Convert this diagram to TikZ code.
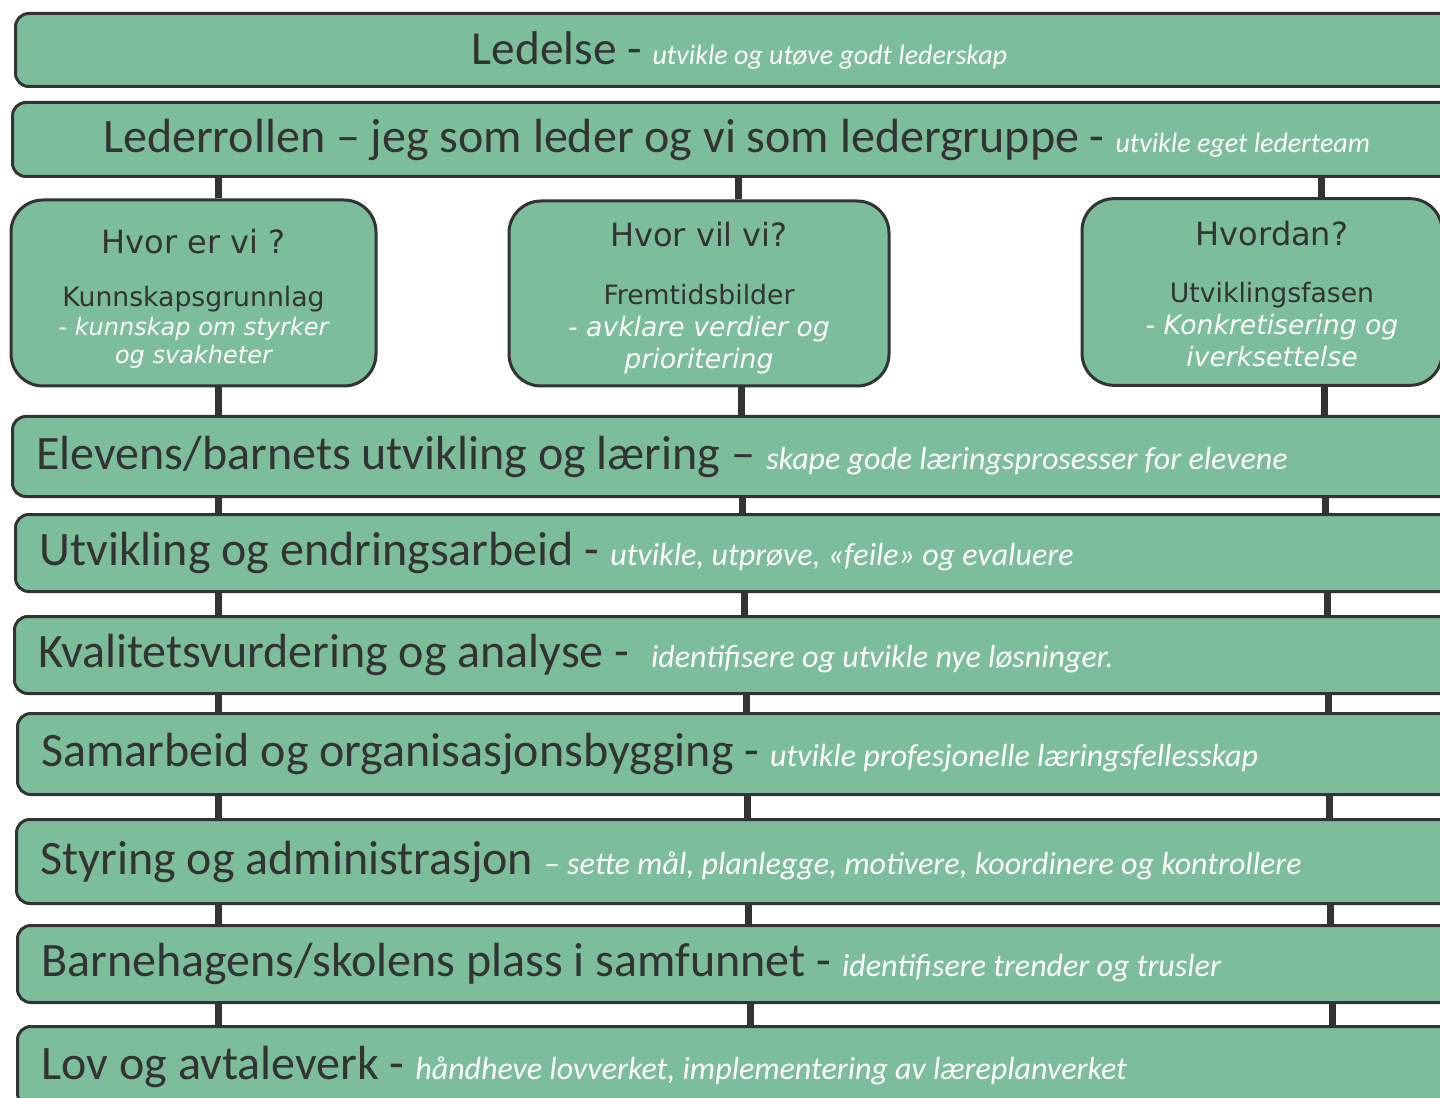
\documentclass[tikz,border=0pt]{standalone}
\usepackage{fontspec}
\newfontfamily\barfont{Carlito}
\newfontfamily\boxfont{DejaVu Sans}
\usetikzlibrary{positioning}
\definecolor{barclr}{HTML}{7CBE9B}
\definecolor{lineclr}{HTML}{333333}
\definecolor{txtclr}{HTML}{333333}
\newcommand{\subtxt}[2][24]{{\fontsize{#1}{#1}\selectfont\itshape\color{white}#2}}

\tikzset{
  plainspace/.style={execute at begin node={\spaceskip=0pt\xspaceskip=0pt}},
  bar/.style={draw=lineclr, line width=2.25pt, fill=barclr, rounded corners=10pt, anchor=north west,
    minimum width=1086pt, minimum height=#1, inner xsep=18pt, inner ysep=0pt,
    text width=1050pt, align=flush left, text=txtclr, font=\barfont\fontsize{36}{40}\selectfont, plainspace},
  topbar/.style={bar=#1, align=flush center},
  qbox/.style 2 args={draw=lineclr, line width=2.25pt, fill=barclr, rounded corners=24pt,
    minimum width=#1, minimum height=#2, inner sep=0pt, text width=256pt, align=flush center,
    text=txtclr, font=\boxfont, plainspace},
  link/.style={draw=lineclr, line width=5.25pt}
}

\begin{document}
\begin{tikzpicture}[x=0.75pt, y=-0.75pt]
\useasboundingbox (0,0) rectangle (1440,1098);
\clip (0,0) rectangle (1440,1098);
\fill[white] (0,0) rectangle (1440,1098);

% bars
\node[topbar=54.75pt, font=\barfont\fontsize{35.5}{40}\selectfont] (ld) at (14,12) {Ledelse - \subtxt[21]{utvikle og utøve godt lederskap}};
\node[topbar=55.5pt] (lr) at (11,101) {Lederrollen – jeg som leder og vi som ledergruppe - \subtxt[21]{utvikle eget lederteam}};

% three questions
\node[qbox={273.75pt}{139.5pt}] (hvor) at (193.5,293) {%
  {\fontsize{24}{29}\selectfont Hvor er vi ?\par}
  {\fontsize{20}{40}\selectfont Kunnskapsgrunnlag\par}
  {\fontsize{18}{21.4}\selectfont\itshape\color{white}- kunnskap om styrker\\og svakheter\par}\vspace{-9pt}};
\node[qbox={285pt}{138.75pt}] (vil) at (699,293.5) {%
  {\fontsize{24}{29}\selectfont Hvor vil vi?\par}
  {\fontsize{20}{43.5}\selectfont Fremtidsbilder\par}
  {\fontsize{20}{24}\selectfont\itshape\color{white}- avklare verdier og\\prioritering\par}\vspace{-7.5pt}};
\node[qbox={270pt}{140pt}] (hvordan) at (1262,292) {\leftskip=15pt plus 1fil%
  {\fontsize{24}{29}\selectfont Hvordan?\par}
  {\fontsize{20}{43}\selectfont Utviklingsfasen\par}
  {\fontsize{20}{24}\selectfont\itshape\color{white}- Konkretisering og\\iverksettelse\par}\vspace{-3pt}};

\node[bar=60pt] (el) at (11,415) {Elevens/barnets utvikling og læring – \subtxt{skape gode læringsprosesser for elevene}};
\node[bar=57.75pt] (ut) at (14,513) {Utvikling og endringsarbeid - \subtxt{utvikle, utprøve, «feile» og evaluere}};
\node[bar=57.75pt] (kv) at (13,615) {Kvalitetsvurdering og analyse -~ \subtxt{identifisere og utvikle nye løsninger.}};
\node[bar=60.75pt] (sa) at (16,712) {Samarbeid og organisasjonsbygging - \subtxt{utvikle profesjonelle læringsfellesskap}};
\node[bar=63pt] (st) at (15,818) {Styring og administrasjon \subtxt{– sette mål, planlegge, motivere, koordinere og kontrollere}};
\node[bar=57.75pt] (ba) at (16,924) {Barnehagens/skolens plass i samfunnet - \subtxt{identifisere trender og trusler}};
\node[bar=60pt] (lov) at (16,1025) {Lov og avtaleverk - \subtxt{håndheve lovverket, implementering av læreplanverket}};

% connectors
\draw[link] (lr.south -| 218,0) -- (hvor.north -| 218,0);
\draw[link] (lr.south -| 738,0) -- (vil.north -| 738,0);
\draw[link] (lr.south -| 1321,0) -- (hvordan.north -| 1321,0);
\draw[link] (hvor.south -| 218,0) -- (el.north -| 218,0);
\draw[link] (vil.south -| 741,0) -- (el.north -| 741,0);
\draw[link] (hvordan.south -| 1324,0) -- (el.north -| 1324,0);
\foreach \a/\b/\xm/\xr in {el/ut/742/1325, ut/kv/744/1327, kv/sa/746/1328, sa/st/747/1329, st/ba/748/1330, ba/lov/750/1332}{
  \draw[link] (\a.south -| 218,0) -- (\b.north -| 218,0);
  \draw[link] (\a.south -| \xm,0) -- (\b.north -| \xm,0);
  \draw[link] (\a.south -| \xr,0) -- (\b.north -| \xr,0);
}
\end{tikzpicture}
\end{document}
